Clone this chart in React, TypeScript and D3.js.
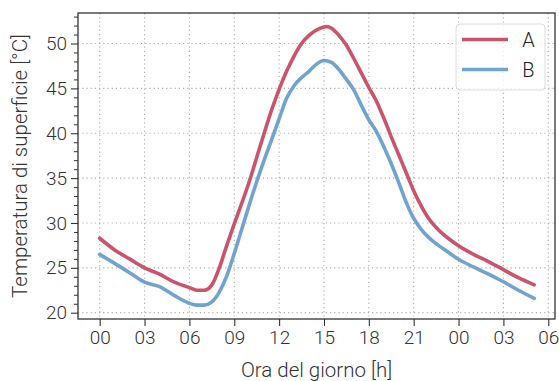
import React, { useEffect, useRef } from "react";
import * as d3 from "d3";

// hours since midnight (day 1 -> next morning)
const hoursA = [0, 1, 2, 3, 4, 5, 6, 6.5, 7, 7.5, 8, 8.5, 9, 9.5, 10, 10.5, 11, 11.5, 12, 12.5, 13, 13.5, 14, 14.5, 15, 15.2, 15.5, 16, 16.5, 17, 17.5, 18, 18.5, 19, 19.5, 20, 20.5, 21, 21.5, 22, 22.5, 23, 23.5, 24, 25, 26, 27, 28, 29.06];
const tempA = [28.3, 27.0, 26.0, 25.0, 24.3, 23.4, 22.8, 22.5, 22.5, 23.1, 25.0, 27.5, 29.9, 32.2, 34.6, 37.3, 40.0, 42.6, 44.9, 46.9, 48.6, 50.0, 50.9, 51.5, 51.85, 51.9, 51.7, 50.9, 49.8, 48.3, 46.7, 45.1, 43.6, 41.7, 39.6, 37.6, 35.6, 33.6, 31.9, 30.5, 29.5, 28.7, 28.05, 27.45, 26.5, 25.7, 24.8, 23.9, 23.1];

const hoursB = [0, 1, 2, 3, 4, 5, 6, 6.5, 7, 7.5, 8, 8.5, 9, 9.5, 10, 10.5, 11, 11.5, 12, 12.5, 13, 13.5, 14, 14.5, 15, 15.5, 16, 16.5, 17, 17.5, 18, 18.5, 19, 19.5, 20, 20.5, 21, 21.5, 22, 22.5, 23, 24, 25, 26, 27, 28, 29.06];
const tempB = [26.5, 25.5, 24.45, 23.4, 22.9, 21.9, 21.05, 20.85, 20.85, 21.2, 22.3, 24.1, 26.6, 29.3, 32.0, 34.6, 37.0, 39.3, 41.6, 43.9, 45.3, 46.2, 46.9, 47.7, 48.1, 47.9, 47.1, 46.0, 44.8, 43.1, 41.5, 40.2, 38.5, 36.6, 34.5, 32.3, 30.5, 29.3, 28.4, 27.7, 27.1, 25.95, 25.1, 24.3, 23.45, 22.5, 21.6];

const xTickValues = [0, 3, 6, 9, 12, 15, 18, 21, 24, 27, 30];
const xTickLabels = ["00", "03", "06", "09", "12", "15", "18", "21", "00", "03", "06"];
const yTickValues = [20, 25, 30, 35, 40, 45, 50];

const series = [
  { name: "A", hours: hoursA, temps: tempA, color: "#c9546b" },
  { name: "B", hours: hoursB, temps: tempB, color: "#70a4cf" },
];

const W = 559;
const H = 381;
const margin = { top: 13, right: 4, bottom: 62, left: 78 };
const FONT = "Roboto, 'DejaVu Sans', sans-serif";

function App() {
  const chartRef = useRef<SVGSVGElement>(null);

  useEffect(() => {
    drawChart();
  }, []);

  const drawChart = () => {
    const svg = d3.select(chartRef.current);
    svg.selectAll("*").remove();

    const innerW = W - margin.left - margin.right;
    const innerH = H - margin.top - margin.bottom;

    const x = d3.scaleLinear().domain([-1.45, 30.45]).range([0, innerW]);
    const y = d3.scaleLinear().domain([19.3, 53.4]).range([innerH, 0]);

    const g = svg
      .append("g")
      .attr("transform", `translate(${margin.left},${margin.top})`);

    // grid
    g.append("g")
      .selectAll("line")
      .data(xTickValues)
      .join("line")
      .attr("x1", (d) => x(d))
      .attr("x2", (d) => x(d))
      .attr("y1", 0)
      .attr("y2", innerH)
      .attr("stroke", "#b0b0b0")
      .attr("stroke-width", 1.2)
      .attr("stroke-dasharray", "1.2,3");

    g.append("g")
      .selectAll("line")
      .data(yTickValues)
      .join("line")
      .attr("x1", 0)
      .attr("x2", innerW)
      .attr("y1", (d) => y(d))
      .attr("y2", (d) => y(d))
      .attr("stroke", "#b0b0b0")
      .attr("stroke-width", 1.2)
      .attr("stroke-dasharray", "1.2,3");

    // lines
    const line = d3
      .line<[number, number]>()
      .x((d) => x(d[0]))
      .y((d) => y(d[1]))
      .curve(d3.curveMonotoneX);

    series.forEach((s) => {
      const pts = s.hours.map((h, i) => [h, s.temps[i]] as [number, number]);
      g.append("path")
        .datum(pts)
        .attr("d", line)
        .attr("fill", "none")
        .attr("stroke", s.color)
        .attr("stroke-width", 3.6)
        .attr("stroke-linejoin", "round")
        .attr("stroke-linecap", "round");
    });

    // axes
    const xAxis = g
      .append("g")
      .attr("transform", `translate(0,${innerH})`)
      .call(
        d3
          .axisBottom(x)
          .tickValues(xTickValues)
          .tickFormat((d, i) => xTickLabels[i])
          .tickSize(7)
          .tickPadding(5)
      );

    const yAxis = g.append("g").call(
      d3
        .axisLeft(y)
        .tickValues(yTickValues)
        .tickFormat(d3.format("d"))
        .tickSize(7)
        .tickPadding(4)
    );

    g.append("g")
      .call(
        d3
          .axisLeft(y)
          .tickValues(d3.range(20, 54).filter((v) => v % 5 !== 0))
          .tickFormat(() => "")
          .tickSize(4)
      )
      .select(".domain")
      .remove();

    [xAxis, yAxis].forEach((a) => {
      a.select(".domain").remove();
      a.selectAll("text")
        .attr("font-family", FONT)
        .attr("font-size", 19)
        .attr("font-weight", 300)
        .attr("fill", "#333");
      a.selectAll("line").attr("stroke", "#333").attr("stroke-width", 1.1);
    });
    g.selectAll(".tick line").attr("stroke", "#333");

    // frame
    g.append("rect")
      .attr("x", 0)
      .attr("y", 0)
      .attr("width", innerW)
      .attr("height", innerH)
      .attr("fill", "none")
      .attr("stroke", "#333")
      .attr("stroke-width", 1.3);

    // legend
    const lg = svg.append("g").attr("transform", "translate(456,24)");
    lg.append("rect")
      .attr("width", 89)
      .attr("height", 66)
      .attr("rx", 4)
      .attr("fill", "white")
      .attr("fill-opacity", 0.8)
      .attr("stroke", "#dcdcdc")
      .attr("stroke-width", 1);
    series.forEach((s, i) => {
      const cy = 15.5 + i * 30;
      lg.append("line")
        .attr("x1", 6)
        .attr("x2", 52)
        .attr("y1", cy)
        .attr("y2", cy)
        .attr("stroke", s.color)
        .attr("stroke-width", 3.6);
      lg.append("text")
        .attr("x", 72.5)
        .attr("y", cy + 7)
        .attr("text-anchor", "middle")
        .attr("font-family", FONT)
        .attr("font-size", 20)
        .attr("font-weight", 300)
        .attr("fill", "#222")
        .text(s.name);
    });

    // axis titles
    svg
      .append("text")
      .attr("x", margin.left + innerW / 2)
      .attr("y", 377)
      .attr("text-anchor", "middle")
      .attr("font-family", FONT)
      .attr("font-size", 20.5)
      .attr("font-weight", 300)
      .attr("fill", "#333")
      .text("Ora del giorno [h]");

    svg
      .append("text")
      .attr("transform", `translate(27,${margin.top + innerH / 2}) rotate(-90)`)
      .attr("text-anchor", "middle")
      .attr("font-family", FONT)
      .attr("font-size", 20.5)
      .attr("font-weight", 300)
      .attr("fill", "#333")
      .text("Temperatura di superficie [°C]");
  };

  return (
    <svg
      ref={chartRef}
      width={W}
      height={H}
      style={{ position: "absolute", left: 0, top: 0, background: "white" }}
    ></svg>
  );
}

export default App;
